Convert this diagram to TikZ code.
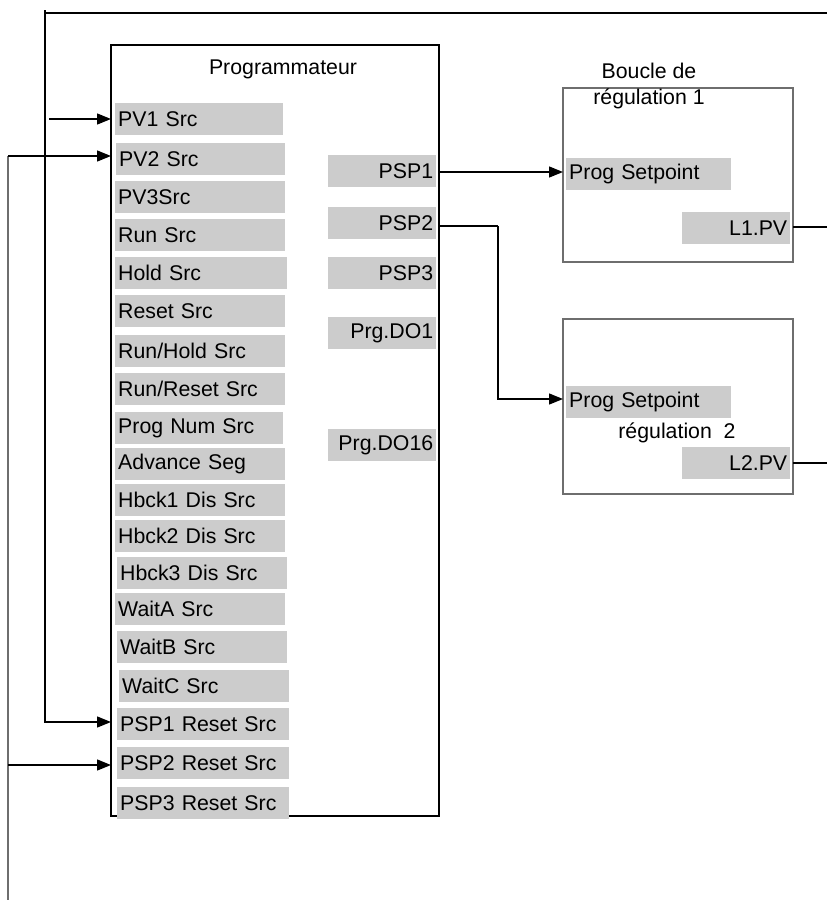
\documentclass[tikz,border=0pt]{standalone}
\usepackage{fontspec}
\setmainfont{Liberation Sans}
\usetikzlibrary{arrows.meta}
\definecolor{itemgray}{RGB}{204,204,204}
\definecolor{framegray}{RGB}{110,110,110}
\tikzset{
  lbox/.style={draw=black, line width=2pt},
  loopbox/.style={draw=framegray, line width=1.8pt},
  litem/.style={fill=itemgray, anchor=north west, inner xsep=3pt, inner ysep=0pt,
     minimum height=31.5pt, align=left, font=\fontsize{21.3}{24}\selectfont},
  ritem/.style={fill=itemgray, anchor=north west, inner xsep=3pt, inner ysep=0pt,
     minimum height=31.5pt, text width=102pt, align=right, font=\fontsize{21.3}{24}\selectfont},
  plain/.style={inner sep=0pt, font=\fontsize{21.3}{25.5}\selectfont, align=center},
  wire/.style={draw=black, line width=1.4pt},
  gwire/.style={draw=framegray, line width=1.8pt},
  arr/.style={-{Triangle[length=14pt,width=11pt]}},
}
\newcommand{\lrow}[5]{\node[litem, text width=#3pt] (#1) at (#2,#4) {#5};}
\begin{document}
\begin{tikzpicture}[x=1pt,y=-1pt]
\useasboundingbox (0,0) rectangle (827,900);
% main box
\draw[lbox] (111,45) rectangle (439,816);
\coordinate (mainNW) at (111,45);
\node[plain] (title) at (283,69) {Programmateur};
% left items (text width = rect width - 6)
\lrow{pv1}{115}{162}{103}{PV1 Src}
\lrow{pv2}{116}{163}{143}{PV2 Src}
\lrow{pv3}{115}{164}{181}{PV3Src}
\lrow{run}{115}{164}{219}{Run Src}
\lrow{hold}{115}{166}{257}{Hold Src}
\lrow{reset}{115}{164}{295}{Reset Src}
\lrow{runhold}{115}{164}{335}{Run/Hold Src}
\lrow{runreset}{115}{164}{373}{Run/Reset Src}
\lrow{prognum}{115}{162}{412}{Prog Num Src}
\lrow{adv}{115}{164}{448}{Advance Seg}
\lrow{hb1}{115}{164}{484}{Hbck1 Dis Src}
\lrow{hb2}{115}{164}{520}{Hbck2 Dis Src}
\lrow{hb3}{117}{164}{557}{Hbck3 Dis Src}
\lrow{waita}{115}{164}{593}{WaitA Src}
\lrow{waitb}{117}{164}{631}{WaitB Src}
\lrow{waitc}{119}{164}{670}{WaitC Src}
\lrow{psp1r}{117}{166}{708}{PSP1 Reset Src}
\lrow{psp2r}{117}{166}{747}{PSP2 Reset Src}
\lrow{psp3r}{117}{166}{787}{PSP3 Reset Src}
% right items
\node[ritem] (psp1) at (328,155) {PSP1};
\node[ritem] (psp2) at (328,207) {PSP2};
\node[ritem] (psp3) at (328,257) {PSP3};
\node[ritem] (do1) at (328,317) {Prg.DO1};
\node[ritem] (do16) at (328,429) {Prg.DO16};
% loop 1
\draw[loopbox] (563,88) rectangle (793,262);
\node[plain] (loopAtitle) at (649,86) {Boucle de\\régulation 1};
\node[litem, text width=159pt] (ps1) at (566,158) {Prog Setpoint};
\node[ritem] (l1pv) at (682,212) {L1.PV};
% loop 2
\draw[loopbox] (563,319) rectangle (793,494);
\node[litem, text width=159pt] (ps2) at (566,386) {Prog Setpoint};
\node[ritem] (l2pv) at (682,447) {L2.PV};
\node[plain] (loopBtitle) at (677,433) {régulation\ \ 2};
% coordinates for wires
\coordinate (topL) at (45,10);
\coordinate (topC) at (45,13);
\coordinate (topR) at (827,13);
\coordinate (pv1in) at (49,119);
\coordinate (leftB) at (8,900);
\coordinate (leftT) at (8,156);
\coordinate (bend) at (498,226);
\coordinate (box1e) at (793,227);
\coordinate (out1) at (827,227);
\coordinate (box2e) at (793,463);
\coordinate (out2) at (827,463);
% wires
\draw[wire] (topC) -- (topR);
\draw[wire,arr] (topL) -- (45,722) -- (111,722);
\draw[wire,arr] (pv1in) -- (pv1in -| mainNW);
\draw[gwire] (leftB) -- (leftT);
\draw[wire,arr] (leftT) -- (leftT -| mainNW);
\draw[wire,arr] (8,765) -- (111,765);
\draw[wire,arr] (439,172) -- (563,172);
\draw[wire] (439,226) -- (bend);
\draw[wire,arr] (bend) -- (498,399) -- (563,399);
\draw[wire] (box1e) -- (out1);
\draw[wire] (box2e) -- (out2);
\end{tikzpicture}
\end{document}
